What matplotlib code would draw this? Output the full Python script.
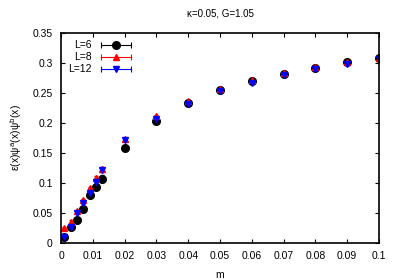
import matplotlib
matplotlib.use("Agg")
import matplotlib.pyplot as plt
from matplotlib.lines import Line2D
from matplotlib.legend_handler import HandlerLine2D, HandlerTuple

# data
m = [0.001, 0.003, 0.005, 0.007, 0.009, 0.011, 0.013, 0.02,
     0.03, 0.04, 0.05, 0.06, 0.07, 0.08, 0.09, 0.1]

L6 = [0.0105, 0.026, 0.038, 0.056, 0.080, 0.093, 0.107, 0.159,
      0.204, 0.233, 0.255, 0.270, 0.282, 0.292, 0.301, 0.309]
L6_err = [0.003, 0.002, 0.002, 0.002, 0.002, 0.003, 0.006, 0.002,
          0.002, 0.002, 0.002, 0.002, 0.002, 0.002, 0.002, 0.002]

L8 = [0.0245, 0.0355, 0.053, 0.0717, 0.092, 0.109, 0.124, 0.173,
      0.211, 0.236, 0.257, 0.271, 0.284, 0.293, 0.302, 0.309]
L8_err = [0.002, 0.002, 0.002, 0.002, 0.002, 0.002, 0.003, 0.002,
          0.002, 0.002, 0.002, 0.002, 0.002, 0.002, 0.002, 0.002]

L12 = [0.0095, 0.026, 0.050, 0.067, 0.084, 0.102, 0.122, 0.172,
       0.207, 0.232, 0.253, 0.267, 0.280, 0.290, 0.299, 0.307]
L12_err = [0.002, 0.002, 0.002, 0.002, 0.002, 0.002, 0.003, 0.002,
           0.002, 0.002, 0.002, 0.002, 0.002, 0.002, 0.002, 0.002]

xticks = [0, 0.01, 0.02, 0.03, 0.04, 0.05, 0.06, 0.07, 0.08, 0.09, 0.1]
xticklabels = ["0", "0.01", "0.02", "0.03", "0.04", "0.05", "0.06", "0.07", "0.08", "0.09", "0.1"]
yticks = [0, 0.05, 0.1, 0.15, 0.2, 0.25, 0.3, 0.35]
yticklabels = ["0", "0.05", "0.1", "0.15", "0.2", "0.25", "0.3", "0.35"]

plt.rcParams['font.family'] = ['Liberation Sans', 'DejaVu Sans']
plt.rcParams['font.size'] = 7.5

fig = plt.figure(figsize=(3.99, 2.79), dpi=100)
ax = fig.add_axes([0.153, 0.129, 0.797, 0.753])

series = [(L6, L6_err, 'o', 'black', 5.5, 'L=6'),
          (L8, L8_err, '^', 'red', 5, 'L=8'),
          (L12, L12_err, 'v', 'blue', 5, 'L=12')]

handles = []
labels = []
hmap = {}
for vals, err, mk, col, ms, lab in series:
    ax.errorbar(m, vals, yerr=err, fmt=mk, color=col, ms=ms,
                elinewidth=0.8, capsize=1.5)
    # gnuplot-like legend sample: bar with end caps plus the marker
    bar = Line2D([], [], color=col, lw=0.8, marker='|', ms=4, mew=0.8)
    dot = Line2D([], [], color=col, ls='none', marker=mk, ms=ms)
    hmap[bar] = HandlerLine2D(numpoints=2)
    hmap[dot] = HandlerLine2D(numpoints=1)
    handles.append((bar, dot))
    labels.append(lab)
hmap[tuple] = HandlerTuple(ndivide=1, pad=0)

ax.set_xlim(0, 0.1)
ax.set_ylim(0, 0.35)
ax.set_xticks(xticks)
ax.set_xticklabels(xticklabels)
ax.set_yticks(yticks)
ax.set_yticklabels(yticklabels)
ax.tick_params(direction='in', top=True, right=True, length=3, width=0.8, pad=6)
for s in ax.spines.values():
    s.set_linewidth(1.2)

ax.set_xlabel('m', labelpad=6)
ax.set_ylabel(r'ε(x)ψ$^\mathrm{a}$(x)ψ$^\mathrm{b}$(x)', labelpad=6)
ax.set_title('κ=0.05, G=1.05', fontsize=7, pad=12)

leg = ax.legend(handles, labels, handler_map=hmap, loc='upper left',
                frameon=False, markerfirst=False,
                handlelength=3.5, handletextpad=0.6, labelspacing=0.2,
                borderaxespad=0.3, bbox_to_anchor=(0.0, 1.0))

fig.savefig('out.png', dpi=100)
